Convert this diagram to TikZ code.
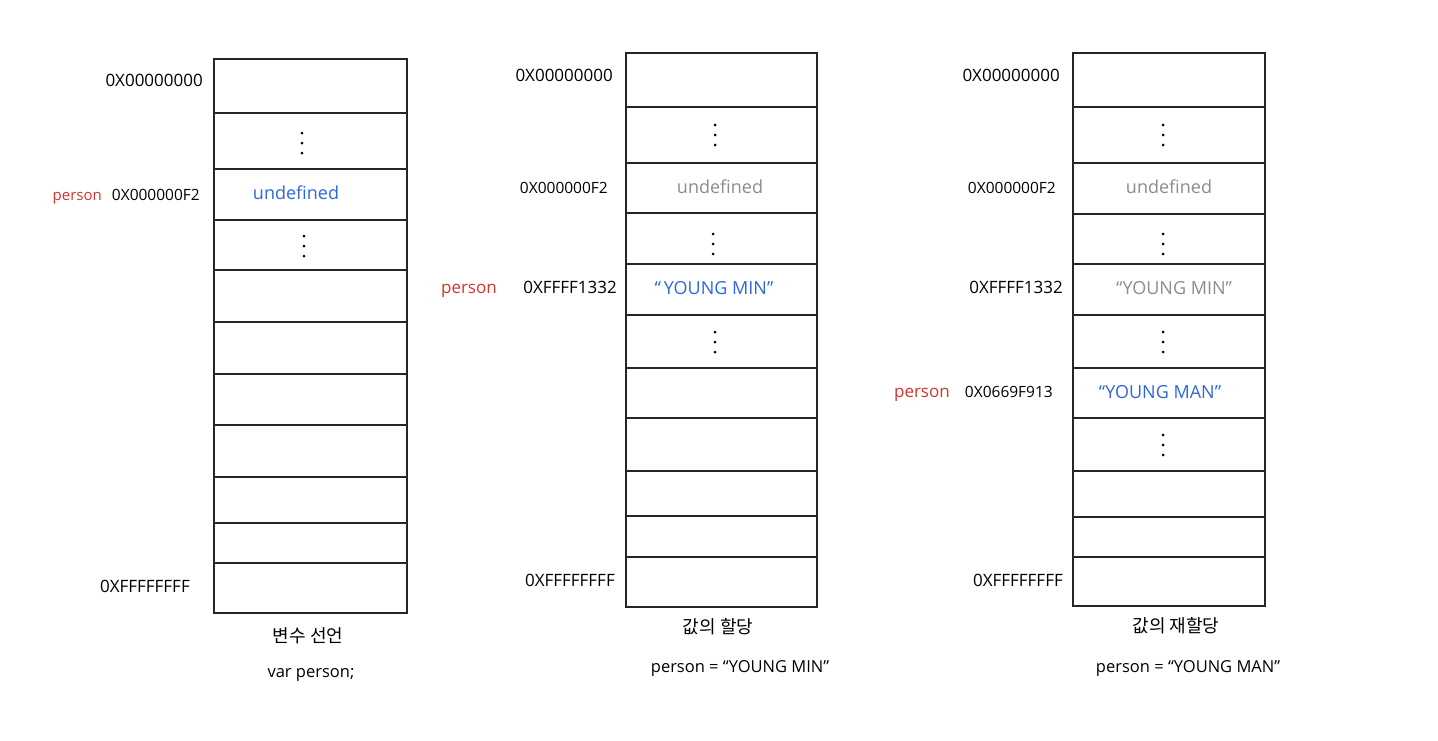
\documentclass[tikz,border=0pt]{standalone}
\usepackage{fontspec}
\setmainfont{Open Sans}
\newfontfamily\krfont{Noto Sans CJK KR}
\definecolor{lblred}{HTML}{D4342C}
\definecolor{valblue}{HTML}{2F66E0}
\definecolor{valgray}{HTML}{8C8C8C}
\newcommand\memdots[2]{%
  \fill (#1,#2-10) circle (1.5);
  \fill (#1,#2) circle (1.5);
  \fill (#1,#2+10) circle (1.5);}
\begin{document}
\begin{tikzpicture}[x=1pt,y=-1pt,
  memline/.style={line width=1.6pt,black!85},
  addr/.style={anchor=mid east,inner sep=0pt,yshift=-3pt,font=\fontsize{17}{20}\selectfont},
  smalladdr/.style={addr,font=\fontsize{15.5}{19}\selectfont},
  varname/.style={anchor=mid east,inner sep=0pt,yshift=-3pt,text=lblred,font=\fontsize{17}{20}\selectfont},
  cellval/.style={anchor=mid,inner sep=0pt,yshift=-3pt,font=\fontsize{18}{21}\selectfont},
  capkr/.style={anchor=mid,inner sep=0pt,yshift=-2pt,font=\krfont\fontsize{18}{21}\selectfont},
  capen/.style={anchor=mid,inner sep=0pt,yshift=-3pt,font=\fontsize{16.5}{19}\selectfont}]
\useasboundingbox (0,0) rectangle (1438,740);
\fill[white] (0,0) rectangle (1438,740);

% ---------- column 1 ----------
\draw[memline] (214,59) rectangle (407,613);
\foreach \yy in {113,169,220,270,322,374,425,477,523,563}
  \draw[memline] (214,\yy) -- (407,\yy);
\node[addr] (a1top) at (203,81) {0X00000000};
\node[smalladdr] (a1f2) at (200,195) {0X000000F2};
\node[varname,font=\fontsize{15}{18}\selectfont] (v1) at (102,195) {person};
\node[addr] (a1bot) at (190,587) {0XFFFFFFFF};
\node[cellval,text=valblue] (u1) at (296,194) {undefined};
\memdots{302}{143}
\memdots{304}{246}
\node[capkr] (k1) at (308,638) {변수 선언};
\node[capen] (e1) at (311,672) {var person;};

% ---------- column 2 ----------
\draw[memline] (626,53) rectangle (817,607);
\foreach \yy in {107,163,213,264,315,368,418,471,516,557}
  \draw[memline] (626,\yy) -- (817,\yy);
\node[addr] (a2top) at (613,76) {0X00000000};
\node[smalladdr] (a2f2) at (608,188) {0X000000F2};
\node[addr] (a2m) at (617,288) {0XFFFF1332};
\node[varname] (v2) at (497,288) {person};
\node[addr] (a2bot) at (615,581) {0XFFFFFFFF};
\node[cellval,text=valgray] (u2) at (720,188) {undefined};
\node[cellval,text=valblue] (y2) at (714,289) {``\,YOUNG MIN''};
\memdots{715}{135}
\memdots{713}{244}
\memdots{715}{342}
\node[capkr] (k2) at (718,629) {값의 할당};
\node[capen] (e2) at (740,667) {person = ``YOUNG MIN''};

% ---------- column 3 ----------
\draw[memline] (1073,53) rectangle (1265,606);
\foreach \yy in {107,163,214,264,315,368,418,471,517,557}
  \draw[memline] (1073,\yy) -- (1265,\yy);
\node[addr] (a3top) at (1060,76) {0X00000000};
\node[smalladdr] (a3f2) at (1056,188) {0X000000F2};
\node[addr] (a3m) at (1063,288) {0XFFFF1332};
\node[smalladdr] (a3n) at (1053,392) {0X0669F913};
\node[varname] (v3) at (950,392) {person};
\node[addr] (a3bot) at (1063,581) {0XFFFFFFFF};
\node[cellval,text=valgray] (u3) at (1169,188) {undefined};
\node[cellval,text=valgray] (y3) at (1174,289) {``YOUNG MIN''};
\node[cellval,text=valblue] (m3) at (1160,393) {``YOUNG MAN''};
\memdots{1163}{135}
\memdots{1163}{244}
\memdots{1163}{342}
\memdots{1163}{445}
\node[capkr] (k3) at (1176,628) {값의 재할당};
\node[capen] (e3) at (1188,667) {person = ``YOUNG MAN''};
\end{tikzpicture}
\end{document}
